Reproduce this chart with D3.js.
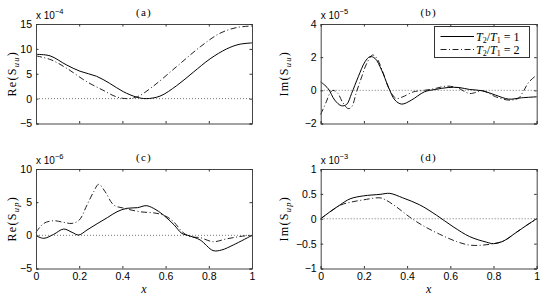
<!DOCTYPE html>
<html><head><meta charset="utf-8">
<script src="https://cdn.jsdelivr.net/npm/d3@7"></script>
<style>
body{margin:0;background:#fff;}
svg{display:block;}
.tick text{font-family:"Liberation Sans",Arial,sans-serif;font-size:10.5px;fill:#000;}
.tick line{stroke:#333;}
</style></head><body>
<svg id="c" width="545" height="296"></svg>
<script>
// ---- data ----
const xTicks = [0, 0.2, 0.4, 0.6, 0.8, 1];
const xTickLabels = ["0", "0.2", "0.4", "0.6", "0.8", "1"];
const titles = ["(a)", "(b)", "(c)", "(d)"];
const exponents = ["-4", "-5", "-6", "-3"];
const yLabelMain = ["Re", "Im", "Re", "Im"];
const yLabelSub = ["uu", "uu", "up", "up"];
const legendLabels = ["1", "2"];
const yDomains = [[-5, 15], [-2, 4], [-5, 10], [-1, 1]];
const yTicksA = [-5, 0, 5, 10, 15];
const yTicksB = [-2, 0, 2, 4];
const yTicksC = [-5, 0, 5, 10];
const yTicksD = [-1, -0.5, 0, 0.5, 1];

const aSolidX = [0, 0.065, 0.14, 0.204, 0.28, 0.34, 0.404, 0.466, 0.51, 0.574, 0.651, 0.728, 0.806, 0.883, 0.94, 1.0];
const aSolidY = [8.9, 8.6, 6.8, 5.5, 4.5, 3.1, 1.4, 0.3, 0.0, 0.5, 2.6, 5.3, 8.0, 10.0, 10.9, 11.2];
const aDashX = [0, 0.07, 0.142, 0.235, 0.31, 0.37, 0.42, 0.47, 0.54, 0.65, 0.76, 0.85, 0.93, 1.0];
const aDashY = [8.6, 7.8, 6.1, 3.4, 1.7, 0.4, 0.0, 0.4, 2.4, 6.4, 10.4, 13.1, 14.3, 14.6];

const bSolidX = [0, 0.034, 0.065, 0.096, 0.12, 0.143, 0.174, 0.205, 0.228, 0.251, 0.282, 0.313, 0.344, 0.375, 0.42, 0.48, 0.53, 0.59, 0.64, 0.69, 0.75, 0.81, 0.87, 0.93, 1.0];
const bSolidY = [0.51, 0.11, -0.59, -0.93, -0.85, -0.19, 0.82, 1.72, 2.03, 1.93, 1.22, 0.21, -0.59, -0.83, -0.59, -0.09, 0.05, 0.17, 0.17, 0.05, -0.03, -0.29, -0.53, -0.45, -0.39];
const bDashX = [0, 0.026, 0.042, 0.057, 0.08, 0.1, 0.127, 0.143, 0.166, 0.19, 0.213, 0.24, 0.26, 0.29, 0.32, 0.35, 0.38, 0.43, 0.48, 0.53, 0.58, 0.63, 0.69, 0.75, 0.81, 0.87, 0.9, 0.918, 0.941, 0.964, 1.0];
const bDashY = [-1.45, -0.69, -0.19, 0.0, -0.19, -0.69, -1.1, -1.0, -0.09, 0.82, 1.62, 2.13, 1.93, 1.02, 0.0, -0.49, -0.39, -0.09, 0.0, 0.11, 0.25, 0.17, -0.19, -0.03, -0.39, -0.59, -0.55, -0.45, 0.0, 0.5, 0.92];

const cSolidX = [0, 0.036, 0.082, 0.128, 0.167, 0.198, 0.236, 0.283, 0.33, 0.375, 0.42, 0.47, 0.51, 0.544, 0.59, 0.64, 0.675, 0.713, 0.76, 0.82, 0.86, 0.913, 1.0];
const cSolidY = [-0.05, -0.45, 0.15, 0.95, 0.45, 0.05, 0.8, 1.75, 2.66, 3.56, 4.07, 4.17, 4.47, 4.07, 3.06, 1.55, 0.3, -0.1, -0.7, -2.3, -2.2, -1.46, 0.0];
const cDashX = [0, 0.036, 0.082, 0.128, 0.167, 0.2, 0.236, 0.267, 0.29, 0.32, 0.36, 0.41, 0.48, 0.56, 0.606, 0.637, 0.68, 0.713, 0.76, 0.82, 0.88, 0.94, 1.0];
const cDashY = [0.45, 1.8, 2.2, 1.95, 1.8, 2.3, 4.57, 6.58, 7.69, 6.58, 4.57, 4.07, 3.56, 3.31, 2.8, 2.05, 0.45, -0.2, -0.35, -0.96, -0.55, -0.2, 0.05];

const dSolidX = [0, 0.043, 0.09, 0.136, 0.198, 0.275, 0.32, 0.38, 0.458, 0.535, 0.613, 0.69, 0.767, 0.8, 0.845, 0.907, 0.954, 1.0];
const dSolidY = [0, 0.14, 0.28, 0.4, 0.46, 0.49, 0.51, 0.42, 0.28, 0.075, -0.16, -0.36, -0.47, -0.5, -0.45, -0.27, -0.13, 0];
const dDashX = [0, 0.09, 0.136, 0.198, 0.275, 0.3, 0.35, 0.41, 0.47, 0.55, 0.63, 0.69, 0.75, 0.8, 0.845, 0.907, 0.954, 1.0];
const dDashY = [0, 0.27, 0.33, 0.38, 0.42, 0.38, 0.24, 0.04, -0.13, -0.31, -0.46, -0.53, -0.53, -0.5, -0.45, -0.27, -0.13, 0];

// ---- layout ----
const svg = d3.select("#c");
const W = 216, H = 99.5;
const panels = [
  {x: 36, y: 24, yTicks: yTicksA, solid: [aSolidX, aSolidY], dash: [aDashX, aDashY], labX: 12, xLabels: false},
  {x: 320.7, y: 24, yTicks: yTicksB, solid: [bSolidX, bSolidY], dash: [bDashX, bDashY], labX: 284, xLabels: false, legend: true},
  {x: 36, y: 169, yTicks: yTicksC, solid: [cSolidX, cSolidY], dash: [cDashX, cDashY], labX: 12, xLabels: true},
  {x: 320.7, y: 169, yTicks: yTicksD, solid: [dSolidX, dSolidY], dash: [dDashX, dDashY], labX: 284, xLabels: true}
];
const fmt = v => (v < 0 ? "\u2212" : "") + String(Math.abs(v));
const serif = "'Liberation Serif','Times New Roman',serif";
const DASH = "6,2.5,1,2.5";

panels.forEach((p, i) => {
  const g = svg.append("g").attr("transform", `translate(${p.x},${p.y})`);
  const xs = d3.scaleLinear().domain([0, 1]).range([0, W]);
  const ys = d3.scaleLinear().domain(yDomains[i]).range([H, 0]);

  // zero line
  g.append("line").attr("x1", 0).attr("x2", W).attr("y1", ys(0)).attr("y2", ys(0))
    .attr("stroke", "#777").attr("stroke-width", 1).attr("stroke-dasharray", "1,2");

  const line = d3.line().x(d => xs(d[0])).y(d => ys(d[1])).curve(d3.curveCatmullRom.alpha(0.5));
  const ptsS = p.solid[0].map((x, k) => [x, p.solid[1][k]]);
  const ptsD = p.dash[0].map((x, k) => [x, p.dash[1][k]]);
  g.append("path").attr("d", line(ptsD)).attr("fill", "none").attr("stroke", "#222")
    .attr("stroke-width", 1).attr("stroke-dasharray", DASH);
  g.append("path").attr("d", line(ptsS)).attr("fill", "none").attr("stroke", "#000").attr("stroke-width", 1);

  // axes
  const xb = d3.axisBottom(xs).tickValues(xTicks).tickSize(-2.5).tickPadding(4)
    .tickFormat((d, k) => p.xLabels ? xTickLabels[k] : "");
  const xt = d3.axisTop(xs).tickValues(xTicks).tickSize(-2.5).tickFormat("");
  const yl = d3.axisLeft(ys).tickValues(p.yTicks).tickSize(-2.5).tickPadding(4).tickFormat(fmt);
  const yr = d3.axisRight(ys).tickValues(p.yTicks).tickSize(-2.5).tickFormat("");
  [g.append("g").attr("transform", `translate(0,${H})`).call(xb),
   g.append("g").call(xt),
   g.append("g").call(yl),
   g.append("g").attr("transform", `translate(${W},0)`).call(yr)].forEach(a => {
     a.select(".domain").attr("stroke", "#444");
   });

  // exponent
  const ex = g.append("text").attr("x", 0).attr("y", -5.5)
    .attr("font-family", "'Liberation Sans',Arial,sans-serif").attr("font-size", 10).attr("fill", "#000");
  ex.append("tspan").text("x 10");
  ex.append("tspan").attr("dy", -5).attr("font-size", 7.5).text(exponents[i].replace("-", "\u2212"));

  // title
  g.append("text").attr("x", W / 2).attr("y", -8.5).attr("text-anchor", "middle")
    .attr("font-family", serif).attr("font-size", 11).attr("letter-spacing", 1.2).text(titles[i]);

  // y label
  const yt = svg.append("text").attr("transform", `translate(${p.labX + 4},${p.y + H / 2}) rotate(-90)`)
    .attr("text-anchor", "middle").attr("font-family", serif).attr("font-size", 12).attr("letter-spacing", 1.3);
  yt.append("tspan").text(yLabelMain[i] + "(S");
  yt.append("tspan").attr("dy", 3).attr("font-size", 8.5).attr("font-style", "italic").text(yLabelSub[i]);
  yt.append("tspan").attr("dy", -3).text(")");

  // x label
  if (p.xLabels) {
    svg.append("text").attr("x", p.x + W / 2).attr("y", 292.5).attr("text-anchor", "middle")
      .attr("font-family", serif).attr("font-style", "italic").attr("font-size", 12).text("x");
  }

  if (p.legend) {
    const lg = g.append("g").attr("transform", `translate(${434 - p.x},${26 - p.y})`);
    lg.append("rect").attr("x", 0.5).attr("y", 0.5).attr("width", 95).attr("height", 31)
      .attr("fill", "#fff").attr("stroke", "#333").attr("stroke-width", 1);
    legendLabels.forEach((lab, k) => {
      const yy = 10.5 + k * 13;
      lg.append("line").attr("x1", 6.5).attr("x2", 40).attr("y1", yy).attr("y2", yy)
        .attr("stroke", k === 0 ? "#000" : "#222").attr("stroke-width", 1)
        .attr("stroke-dasharray", k === 0 ? null : DASH);
      const t = lg.append("text").attr("x", 42).attr("y", yy + 4).attr("font-family", serif).attr("font-size", 12);
      t.append("tspan").attr("font-style", "italic").text("T");
      t.append("tspan").attr("dy", 2.5).attr("font-size", 8).text("2");
      t.append("tspan").attr("dy", -2.5).text("/");
      t.append("tspan").attr("font-style", "italic").text("T");
      t.append("tspan").attr("dy", 2.5).attr("font-size", 8).text("1");
      t.append("tspan").attr("dy", -2.5).text(" = " + lab);
    });
  }
});
</script>
</body></html>
